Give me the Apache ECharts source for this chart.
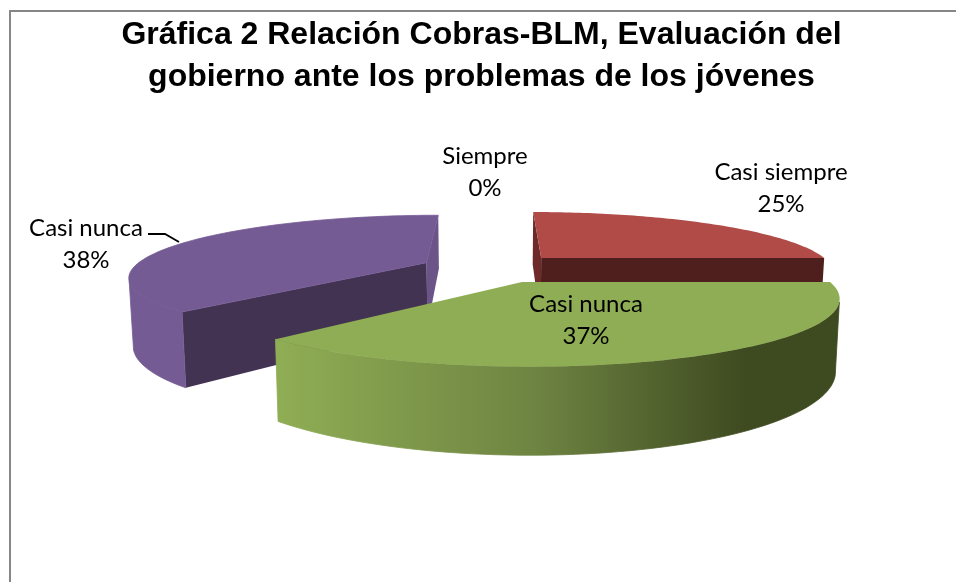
<!DOCTYPE html>
<html>
<head>
<meta charset="utf-8">
<style>
  html, body { margin: 0; padding: 0; background: #fff; }
  #chart { width: 956px; height: 582px; }
</style>
<script src="https://cdn.jsdelivr.net/npm/echarts@6/dist/echarts.min.js"></script>
</head>
<body>
<div id="chart"></div>
<script>
const titleText = 'Gráfica 2 Relación Cobras-BLM, Evaluación del\ngobierno ante los problemas de los jóvenes'
const categories = ['Siempre', 'Casi siempre', 'Casi nunca', 'Casi nunca']
const percents = [0, 25, 37, 38]

// the look of each slice, same order as categories
const topColors = ['#4F81BD', '#B04B48', '#8FAD54', '#755B94']
const cutColors = ['#2A4A70', '#4F1F1E', '#3E4A20', '#423352']
const backCutColors = ['#2A4A70', '#6E2A28', '#3E4A20', '#6B5487']
const labelSpots = [[485, 172], [781, 188], [586, 320], [86, 244]]

// perspective pie: screen y comes from 1/depth, x is scaled with it
const cam = {
  vx: 494, hy: -12,   // vanishing point
  rx: 1.048,          // radius in x, per unit of depth scale
  q: 0.00076,         // radius in inverse depth
  x0: -0.0067, v0: 0.003572, // pie centre
  explode: 0.245,
  wallY: 1.234, wallX: 0.988 // bottom plane against top plane
}

const project = (ang, r, mid, bottom) => {
  let x = cam.x0 + cam.explode * cam.rx * Math.cos(mid) + r * cam.rx * Math.cos(ang)
  let v = cam.v0 - cam.explode * cam.q * Math.sin(mid) - r * cam.q * Math.sin(ang)
  let u = 1 / v
  return bottom
    ? [cam.vx + x * u * cam.wallX, cam.hy + u * cam.wallY]
    : [cam.vx + x * u, cam.hy + u]
}

const STEPS = 80
const arc = (from, to, mid, bottom, frontOnly) => {
  let pts = []
  for (let i = 0; i <= STEPS; i++) {
    let a = from + (to - from) * i / STEPS
    // the wall is only seen on the side that faces us
    if (frontOnly && Math.sin(a) < 0.28) continue
    pts.push(project(a, 1, mid, bottom))
  }
  return pts
}

// same colour stroke so neighbour faces leave no seam
const poly = (points, fill, seam) => ({
  type: 'polygon',
  shape: { points: points },
  style: { fill: fill, stroke: seam ? fill : null, lineWidth: seam ? 0.8 : 0 }
})

// start at 12 o'clock, go clockwise
const total = percents.reduce((a, b) => a + b, 0)
let startAngles = []
percents.reduce((acc, p, i) => {
  startAngles[i] = -Math.PI / 2 + acc / total * Math.PI * 2
  return acc + p
}, 0)

const greenWall = {
  type: 'linear', x: 280, y: 0, x2: 745, y2: 0, global: true,
  colorStops: [
    { offset: 0, color: '#8FAD54' },
    { offset: 0.55, color: '#6E8442' },
    { offset: 1, color: '#3E4A20' }
  ]
}

const renderSlice = (params, api) => {
  let i = api.value(0)
  let p = api.value(1)
  let children = []
  if (p > 0) {
    let a0 = startAngles[i]
    let a1 = a0 + p / total * Math.PI * 2
    let mid = (a0 + a1) / 2
    let apex = project(0, 0, mid, false)
    let apexLow = project(0, 0, mid, true)
    let topArc = arc(a0, a1, mid, false)

    // cut faces, only when they look at the viewer
    let cutFace = (a) => {
      let fill = Math.sin(a) < 0 ? backCutColors[i] : cutColors[i]
      return poly([apex, project(a, 1, mid, false), project(a, 1, mid, true), apexLow], fill)
    }
    if (Math.cos(a0) < 0.01) children.push(cutFace(a0))
    if (Math.cos(a1) > -0.01) children.push(cutFace(a1))

    let wallTop = arc(a0, a1, mid, false, true)
    let wallLow = arc(a0, a1, mid, true, true)
    if (wallTop.length > 1) {
      children.push(poly(wallTop.concat(wallLow.reverse()), i === 2 ? greenWall : topColors[i], true))
    }
    children.push(poly(topArc.concat([apex]), topColors[i], i === 3))
  }
  return { type: 'group', children: children }
}

const renderLabel = (params, api) => {
  let i = api.value(0)
  return {
    type: 'text',
    style: {
      x: labelSpots[i][0],
      y: labelSpots[i][1],
      text: categories[i] + '\n' + api.value(1) + '%',
      fill: '#000',
      font: '24px Lato',
      lineHeight: 32,
      align: 'center',
      verticalAlign: 'middle'
    }
  }
}

const seriesData = percents.map((p, i) => [i, p])
// back slices first, the green one sits in front
const drawOrder = [3, 1, 0, 2]

const chart = echarts.init(document.getElementById('chart'))
chart.setOption({
  animation: false,
  backgroundColor: '#fff',
  title: {
    text: titleText,
    left: 476.5,
    top: 9,
    textAlign: 'center',
    textStyle: {
      fontFamily: 'Liberation Sans',
      fontWeight: 'bold',
      fontSize: 32,
      lineHeight: 42,
      color: '#000'
    }
  },
  graphic: [
    // chart frame
    {
      type: 'polyline',
      shape: { points: [[10, 582], [10, 11], [956, 11]] },
      style: { stroke: '#868686', lineWidth: 2, fill: null }
    },
    // leader line of the last label
    {
      type: 'polyline',
      shape: { points: [[148, 234], [165, 234], [179, 242]] },
      style: { stroke: '#000', lineWidth: 1.8, fill: null }
    }
  ],
  series: [
    {
      type: 'custom',
      coordinateSystem: 'none',
      silent: true,
      data: drawOrder.map(i => seriesData[i]),
      renderItem: renderSlice
    },
    {
      type: 'custom',
      coordinateSystem: 'none',
      silent: true,
      z: 5,
      data: seriesData,
      renderItem: renderLabel
    }
  ]
})
</script>
</body>
</html>
